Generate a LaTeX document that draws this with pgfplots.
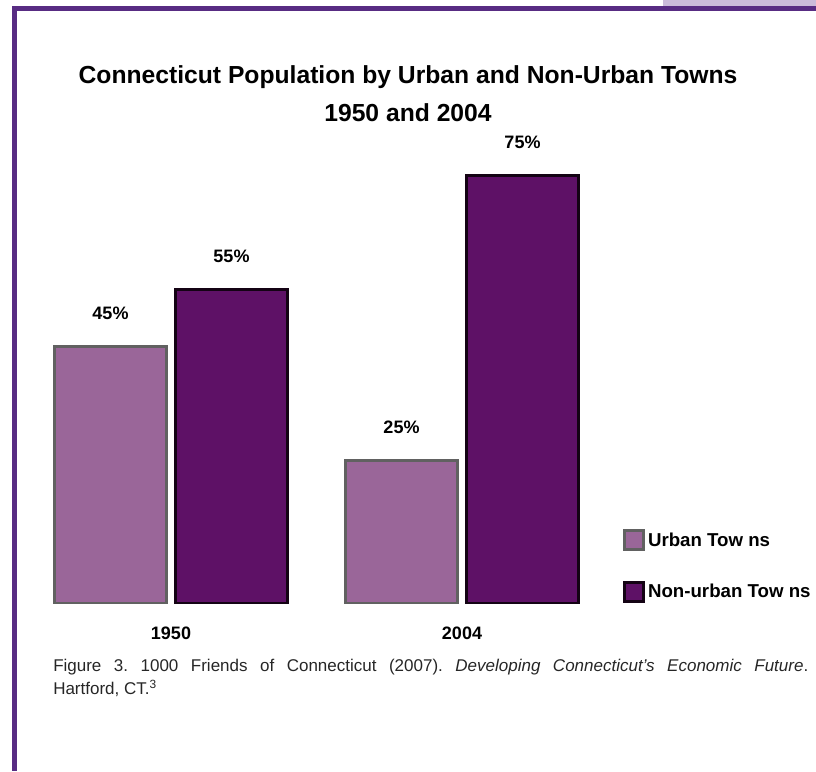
\documentclass[border=0pt]{standalone}
\usepackage{fontspec}
\setmainfont{Liberation Sans}
\usepackage{pgfplots}
\pgfplotsset{compat=1.18}

\definecolor{frame}{HTML}{582C83}
\definecolor{framelight}{HTML}{CBBCDA}
\definecolor{urban}{HTML}{9A6699}
\definecolor{urbanedge}{HTML}{616161}
\definecolor{nonurban}{HTML}{5E1166}
\definecolor{nonurbanedge}{HTML}{140314}

\begin{document}
\frenchspacing
\begin{tikzpicture}[x=0.75pt,y=0.75pt]
\path[use as bounding box] (0,0) rectangle (816,771);
% page frame
\fill[framelight] (663,771) rectangle (816,765);
\fill[frame] (12,765) rectangle (816,760);
\fill[frame] (12,765) rectangle (17,0);
% title
\node[font=\bfseries\fontsize{18.5}{22}\selectfont, anchor=base, inner sep=0pt]
  at (408,771-84) {Connecticut Population by Urban and Non-Urban Towns};
\node[font=\bfseries\fontsize{18.5}{22}\selectfont, anchor=base, inner sep=0pt]
  at (408,771-122) {1950 and 2004};

\begin{axis}[
  at={(19.125pt,126pt)}, anchor=south west,
  scale only axis,
  width=436.5pt, height=342pt,
  xmin=-0.5, xmax=1.5, ymin=0, ymax=80,
  ybar=6.75pt, bar width=84pt,
  axis line style={draw=none},
  major tick length=0pt,
  ytick=\empty,
  xtick={0,1}, xticklabels={1950,2004},
  xticklabel style={font=\bfseries\fontsize{13.5}{16}\selectfont,
    anchor=base, yshift=-27pt},
  /pgf/number format/assume math mode=true,
  nodes near coords={\pgfmathprintnumber{\pgfplotspointmeta}\%},
  every node near coord/.append style={font=\bfseries\fontsize{13.5}{16}\selectfont,
    anchor=base, inner sep=0pt, yshift=20.5pt},
  legend style={draw=none, fill=none, at={(1.02,0.168)}, anchor=north west,
    font=\bfseries\fontsize{14}{16}\selectfont,
    row sep=22.25pt, cells={anchor=west}},
  legend image code/.code={\draw[#1, line width=2.25pt] (0pt,-7pt) rectangle (14.25pt,7.25pt);},
]
\addplot[fill=urban, draw=urbanedge, line width=2.25pt] coordinates {(0,45) (1,25)};
\addplot[fill=nonurban, draw=nonurbanedge, line width=2.25pt] coordinates {(0,55) (1,75)};
\legend{Urban Tow ns, Non-urban Tow ns}
\end{axis}

% caption
\node[anchor=base west, inner sep=0pt, text width=566.25pt, align=justify,
  text=black!85, font=\fontsize{12.75}{17.25}\selectfont] at (53,771-671)
  {Figure 3. 1000 Friends of Connecticut (2007). \textit{Developing Connecticut's Economic Future}.\linebreak Hartford, CT.\textsuperscript{3}};
\end{tikzpicture}
\end{document}
